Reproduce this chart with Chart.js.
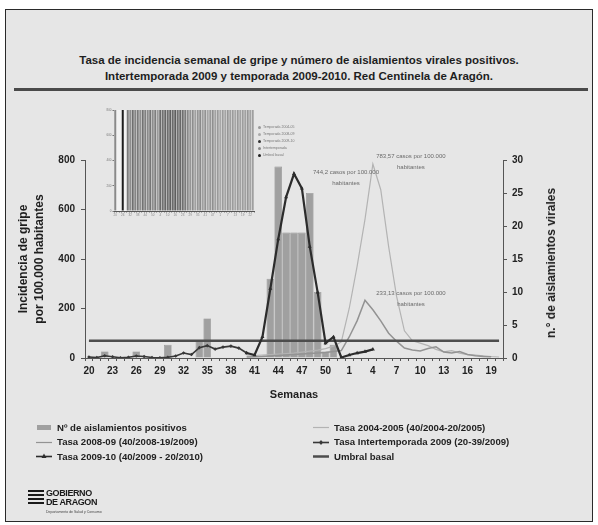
<!DOCTYPE html>
<html lang="es">
<head>
<meta charset="utf-8">
<title>Tasa de incidencia semanal de gripe - Aragón</title>
<script src="https://cdn.jsdelivr.net/npm/chart.js@4.4.1/dist/chart.umd.min.js"></script>
<style>
    html, body { margin: 0; padding: 0; background: #fff; }
    body { width: 598px; height: 525px; position: relative; overflow: hidden; font-family: 'Liberation Sans', Arial, sans-serif; color: #222; }
    .frame { position: absolute; left: 5px; top: 9px; width: 588px; height: 513px; box-sizing: border-box; background: #e6e6e6; border: 1.5px solid #2a2a2a; }
    .title { position: absolute; left: 0; top: 52px; width: 598px; text-align: center; font-weight: bold; font-size: 11.5px; line-height: 16px; color: #1e1e1e; }
    .rule { position: absolute; left: 14px; top: 88px; width: 574px; height: 3px; background: #4a4a4a; }
    #grafico { position: absolute; left: 0; top: 0; }
    #inserto { position: absolute; left: 100px; top: 95px; }
    .eje { position: absolute; font-weight: bold; font-size: 12px; line-height: 16px; text-align: center; color: #1e1e1e; white-space: nowrap; transform: translate(-50%, -50%) rotate(-90deg); }
    .semanas { position: absolute; left: 294px; top: 394px; transform: translate(-50%, -50%); font-weight: bold; font-size: 11px; color: #1e1e1e; }
    #leyenda { position: absolute; left: 36px; top: 420px; display: grid; grid-template-columns: 277px 277px; grid-auto-rows: 14.5px; font-weight: bold; font-size: 9.6px; color: #222; }
    #leyenda div { display: flex; align-items: center; white-space: nowrap; }
    #leyenda svg { margin-right: 5px; }
    #leyenda-inserto { position: absolute; left: 258px; top: 124px; font-size: 3.5px; line-height: 7px; color: #777; }
    #leyenda-inserto span { display: inline-block; width: 3px; height: 3px; border-radius: 50%; margin-right: 2px; vertical-align: middle; }
    .logo { position: absolute; left: 28px; top: 488px; }
    .logo .franjas { position: absolute; left: 0; top: 2px; width: 16px; height: 16px; background: repeating-linear-gradient(#1a1a1a 0 2px, transparent 2px 4px); }
    .logo .texto { position: absolute; left: 18px; top: 1px; font-weight: bold; font-size: 9px; line-height: 8.5px; color: #1a1a1a; letter-spacing: -0.4px; white-space: nowrap; }
    .logo .sub { position: absolute; left: 18px; top: 22px; font-size: 3.5px; color: #444; white-space: nowrap; }
</style>
</head>
<body>
<div class="frame"></div>
<div class="title">Tasa de incidencia semanal de gripe y número de aislamientos virales positivos.<br>Intertemporada 2009 y temporada 2009-2010. Red Centinela de Aragón.</div>
<div class="rule"></div>
<canvas id="grafico" width="598" height="525"></canvas>
<canvas id="inserto" width="160" height="130"></canvas>
<div id="leyenda-inserto"></div>
<div class="eje" style="left:31px; top:259px;">Incidencia de gripe<br>por 100.000 habitantes</div>
<div class="eje" style="left:551px; top:263px;">n.° de aislamientos virales</div>
<div class="semanas">Semanas</div>
<div id="leyenda"></div>
<div class="logo">
    <div class="franjas"></div>
    <div class="texto">GOBIERNO<br>DE ARAGON</div>
    <div class="sub">Departamento de Salud y Consumo</div>
</div>

<script>
// Semanas epidemiológicas: 20-52 de 2009 y 1-20 de 2010
const semanas = ['20','21','22','23','24','25','26','27','28','29','30','31','32','33','34','35','36','37','38','39',
    '40','41','42','43','44','45','46','47','48','49','50','51','52',
    '1','2','3','4','5','6','7','8','9','10','11','12','13','14','15','16','17','18','19','20'];

// Nº de aislamientos virales positivos (eje derecho)
const aislamientos = [0, 0, 1, 0, 0, 0, 1, 0, 0, 0, 2, 0, 0, 0, 2.5, 6, 0, 0, 0, 0,
    0, 0, 0, 12, 29, 19, 19, 19, 25, 10, 1, 2, 0,
    0, 0, 0, 0, null, null, null, null, null, null, null, null, null, null, null, null, null, null, null, null];

// Tasas por 100.000 habitantes (eje izquierdo)
const tasa0405 = [null, null, null, null, null, null, null, null, null, null, null, null, null, null, null, null, null, null, null, null,
    8, 10, 12, 14, 16, 18, 20, 24, 28, 32, 38, 48, 65,
    200, 370, 560, 783.57, 680, 450, 250, 110, 70, 60, 50, 35, 25, 30, 20, 14, 12, 9, 6, 4];

const tasa0809 = [null, null, null, null, null, null, null, null, null, null, null, null, null, null, null, null, null, null, null, null,
    4, 5, 6, 8, 10, 12, 14, 16, 18, 20, 22, 26, 30,
    85, 150, 233.13, 195, 150, 100, 68, 40, 32, 28, 38, 45, 24, 20, 26, 14, 9, 6, 5, null];

const tasaInter2009 = [4, 2, 9, 5, 1, 3, 8, 6, 2, 1, 3, 8, 20, 14, 42, 50, 36, 44, 48, 40,
    20, null, null, null, null, null, null, null, null, null, null, null, null,
    null, null, null, null, null, null, null, null, null, null, null, null, null, null, null, null, null, null, null, null];

const tasa0910 = [null, null, null, null, null, null, null, null, null, null, null, null, null, null, null, null, null, null, null, null,
    20, 12, 85, 280, 480, 650, 744.2, 685, 450, 265, 60, 85, 2,
    12, 20, 26, 35, null, null, null, null, null, null, null, null, null, null, null, null, null, null, null, null];

const umbralBasal = [70, 70, 70, 70, 70, 70, 70, 70, 70, 70, 70, 70, 70, 70, 70, 70, 70, 70, 70, 70,
    70, 70, 70, 70, 70, 70, 70, 70, 70, 70, 70, 70, 70,
    70, 70, 70, 70, 70, 70, 70, 70, 70, 70, 70, 70, 70, 70, 70, 70, 70, 70, 70, 70];

const ticksIncidencia = [0, 200, 400, 600, 800];
const ticksAislamientos = [0, 5, 10, 15, 20, 25, 30];

// Gráfico incrustado (restos del original)
const insertoCategorias = ['20','22','24','26','28','30','32','34','36','38','40','42','44','46','48','50','52','2','4','6','8','10','12','14','16','18',
    '21','23','25','27','29','31','33','35','37','39','41','43','45','47','49','51','1','3','5','7','9','11','13','15','17','19','20','21','22','23'];
const insertoValores = [800, 0, 0, 800, 0, 800, 800, 800, 800, 800, 800, 800, 800, 800, 800, 800, 800, 800, 800, 800,
    800, 800, 800, 800, 800, 800, 800, 800, 800, 800, 800, 800, 800, 800, 800, 800, 800, 800, 800, 800,
    800, 800, 800, 800, 800, 800, 800, 800, 800, 800, 800, 800, 800, 800, 800, 800];
const insertoColores = ['#8a8a8a', '#eee', '#eee', '#1e1e1e', '#eee', '#7a7a7a', '#8e8e8e', '#6f6f6f', '#858585', '#7a7a7a',
    '#909090', '#727272', '#808080', '#8a8a8a', '#767676', '#8c8c8c', '#7e7e7e', '#9a9a9a', '#6a6a6a', '#707070',
    '#666', '#6d6d6d', '#616161', '#6a6a6a', '#5e5e5e', '#707070', '#686868', '#6e6e6e', '#7a7a7a', '#888',
    '#969696', '#8d8d8d', '#a0a0a0', '#959595', '#8a8a8a', '#9e9e9e', '#929292', '#a5a5a5', '#989898', '#8f8f8f',
    '#a2a2a2', '#9a9a9a', '#a8a8a8', '#9c9c9c', '#a4a4a4', '#969696', '#a0a0a0', '#9b9b9b', '#a6a6a6', '#999',
    '#a3a3a3', '#9d9d9d', '#a1a1a1', '#979797', '#a5a5a5', '#9f9f9f'];
const insertoLeyenda = ['Temporada 2004-05', 'Temporada 2008-09', 'Temporada 2009-10', 'Intertemporada', 'Umbral basal'];
const insertoLeyendaColores = ['#999', '#aaa', '#333', '#888', '#222'];

const notas = [
    { serie: 4, punto: 26, lineas: ['744,2 casos por 100.000', 'habitantes'], dx: 52, dy: -1 },
    { serie: 1, punto: 36, lineas: ['783,57 casos por 100.000', 'habitantes'], dx: 38, dy: -8 },
    { serie: 2, punto: 35, lineas: ['233,13 casos por 100.000', 'habitantes'], dx: 46, dy: -7 }
];

const FONT = "'Liberation Sans', Arial, sans-serif";

const notasPlugin = {
    id: 'notas',
    afterDatasetsDraw(chart) {
        const ctx = chart.ctx;
        ctx.save();
        ctx.font = '6px ' + FONT;
        ctx.fillStyle = '#6a6a6a';
        ctx.textAlign = 'center';
        ctx.textBaseline = 'middle';
        notas.forEach(n => {
            const p = chart.getDatasetMeta(n.serie).data[n.punto];
            if (!p) return;
            n.lineas.forEach((txt, i) => {
                ctx.fillText(txt, p.x + n.dx, p.y + n.dy + i * 11);
            });
        });
        ctx.restore();
    }
};

const datasets = [
    {
        type: 'bar', label: 'Nº de aislamientos  positivos', data: aislamientos, yAxisID: 'y1',
        backgroundColor: '#a0a0a0', borderColor: '#8a8a8a', borderWidth: 0.6,
        barPercentage: 1, categoryPercentage: 0.96, order: 10, swatch: 'bar'
    },
    {
        type: 'line', label: 'Tasa 2004-2005 (40/2004-20/2005)', data: tasa0405, yAxisID: 'y',
        borderColor: '#b3b3b3', borderWidth: 1.2, pointRadius: 0, order: 5, swatch: 'line'
    },
    {
        type: 'line', label: 'Tasa 2008-09 (40/2008-19/2009)', data: tasa0809, yAxisID: 'y',
        borderColor: '#939393', borderWidth: 1.5, pointRadius: 0, order: 4, swatch: 'line'
    },
    {
        type: 'line', label: 'Tasa Intertemporada 2009 (20-39/2009)', data: tasaInter2009, yAxisID: 'y',
        borderColor: '#383838', borderWidth: 1.6, pointStyle: 'rectRot', pointRadius: 1.8,
        pointBackgroundColor: '#383838', pointBorderWidth: 0, order: 2, swatch: 'marker'
    },
    {
        type: 'line', label: 'Tasa 2009-10 (40/2009 - 20/2010)', data: tasa0910, yAxisID: 'y',
        borderColor: '#2c2c2c', borderWidth: 2.2, pointStyle: 'triangle', pointRadius: 2.3,
        pointBackgroundColor: '#2c2c2c', pointBorderWidth: 0, order: 1, swatch: 'marker'
    },
    {
        type: 'line', label: 'Umbral basal', data: umbralBasal, yAxisID: 'y',
        borderColor: '#4d4d4d', borderWidth: 2.5, pointRadius: 0, order: 3, swatch: 'thick'
    }
];

const tickFont = { family: FONT, size: 10, weight: 'bold' };

new Chart(document.getElementById('grafico'), {
    type: 'bar',
    data: { labels: semanas, datasets: datasets },
    options: {
        responsive: false,
        animation: false,
        layout: { padding: { left: 10, right: 55, top: 160, bottom: 137 } },
        plugins: { legend: { display: false }, tooltip: { enabled: false } },
        scales: {
            x: {
                offset: true,
                grid: { display: true, drawOnChartArea: false, offset: true, tickLength: 3, color: '#555' },
                border: { color: '#555', width: 1 },
                ticks: {
                    autoSkip: false, maxRotation: 0, minRotation: 0, padding: 4,
                    color: '#222', font: tickFont,
                    callback: (v, i) => (i % 3 === 0 ? semanas[i] : '')
                },
                afterFit: s => { s.height = 30; }
            },
            y: {
                position: 'left', min: 0, max: 800,
                afterBuildTicks: s => { s.ticks = ticksIncidencia.map(v => ({ value: v })); },
                grid: { drawOnChartArea: false, tickLength: 4, color: '#555' },
                border: { color: '#555', width: 1 },
                ticks: { color: '#222', font: tickFont, padding: 6 },
                afterFit: s => { s.width = 75; }
            },
            y1: {
                position: 'right', min: 0, max: 30,
                afterBuildTicks: s => { s.ticks = ticksAislamientos.map(v => ({ value: v })); },
                grid: { drawOnChartArea: false, tickLength: 4, color: '#555' },
                border: { color: '#555', width: 1 },
                ticks: { color: '#222', font: tickFont, padding: 5 },
                afterFit: s => { s.width = 40; }
            }
        }
    },
    plugins: [notasPlugin]
});

// Leyenda en dos columnas, construida desde las series
function swatchSvg(ds) {
    const c = ds.borderColor;
    if (ds.swatch === 'bar') {
        return `<svg width="16" height="8"><rect x="1" y="2" width="14" height="5" fill="${ds.backgroundColor}"/></svg>`;
    }
    const w = ds.swatch === 'thick' ? 2.5 : (ds.swatch === 'marker' ? 1.6 : 1.2);
    let marker = '';
    if (ds.swatch === 'marker') {
        marker = ds.pointStyle === 'triangle'
            ? `<polygon points="8,1.5 10.5,6 5.5,6" fill="${c}"/>`
            : `<polygon points="8,2 10,4.5 8,7 6,4.5" fill="${c}"/>`;
    }
    return `<svg width="16" height="8"><line x1="0" y1="4.5" x2="16" y2="4.5" stroke="${c}" stroke-width="${w}"/>${marker}</svg>`;
}

const leyenda = document.getElementById('leyenda');
[0, 1, 2, 3, 4, 5].forEach(i => {
    const ds = datasets[i];
    const item = document.createElement('div');
    item.innerHTML = swatchSvg(ds) + '<span></span>';
    item.querySelector('span').textContent = ds.label;
    leyenda.appendChild(item);
});

// Gráfico incrustado en la esquina superior izquierda
const fondoInserto = {
    id: 'fondoInserto',
    beforeDatasetsDraw(chart) {
        const a = chart.chartArea;
        chart.ctx.save();
        chart.ctx.fillStyle = '#f2f2f2';
        chart.ctx.fillRect(a.left, a.top, a.right - a.left, a.bottom - a.top);
        chart.ctx.restore();
    }
};

new Chart(document.getElementById('inserto'), {
    type: 'bar',
    data: {
        labels: insertoCategorias,
        datasets: [{ data: insertoValores, backgroundColor: insertoColores, barPercentage: 0.8, categoryPercentage: 1 }]
    },
    options: {
        responsive: false,
        animation: false,
        layout: { padding: { left: 4, right: 6, top: 15, bottom: 6 } },
        plugins: { legend: { display: false }, tooltip: { enabled: false } },
        scales: {
            x: {
                grid: { drawOnChartArea: false, tickLength: 1.5, color: '#777' },
                border: { color: '#555' },
                ticks: { autoSkip: false, maxRotation: 0, font: { size: 3 }, color: '#888', padding: 1,
                    callback: (v, i) => (i % 3 === 0 ? insertoCategorias[i] : '') },
                afterFit: s => { s.height = 8; }
            },
            y: {
                min: 0, max: 800,
                afterBuildTicks: s => { s.ticks = ticksIncidencia.map(v => ({ value: v })); },
                grid: { drawOnChartArea: false, tickLength: 1.5, color: '#777' },
                border: { color: '#555' },
                ticks: { font: { size: 3 }, color: '#777', padding: 1 },
                afterFit: s => { s.width = 10; }
            }
        }
    },
    plugins: [fondoInserto]
});

const leyendaInserto = document.getElementById('leyenda-inserto');
leyendaInserto.innerHTML = insertoLeyenda.map((t, i) =>
    `<div><span style="background:${insertoLeyendaColores[i]}"></span>${t}</div>`).join('');
</script>
</body>
</html>
